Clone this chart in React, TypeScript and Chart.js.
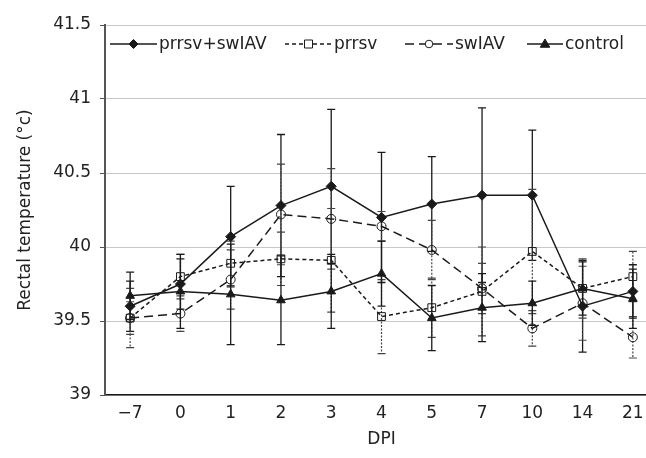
import React, { useEffect, useRef } from 'react';
import { Chart, registerables } from 'chart.js';

Chart.register(...registerables);

const categories = ['−7', '0', '1', '2', '3', '4', '5', '7', '10', '14', '21'];

const comboValues = [39.6, 39.75, 40.07, 40.28, 40.41, 40.2, 40.29, 40.35, 40.35, 39.6, 39.7];
const comboErrors = [0.17, 0.17, 0.34, 0.48, 0.52, 0.44, 0.32, 0.59, 0.44, 0.31, 0.18];

const prrsvValues = [39.52, 39.8, 39.89, 39.92, 39.91, 39.53, 39.59, 39.7, 39.97, 39.72, 39.8];
const prrsvErrors = [0.2, 0.15, 0.15, 0.18, 0.35, 0.25, 0.2, 0.3, 0.42, 0.2, 0.17];

const swiavValues = [39.52, 39.55, 39.78, 40.22, 40.19, 40.14, 39.98, 39.72, 39.45, 39.62, 39.39];
const swiavErrors = [0.11, 0.12, 0.2, 0.34, 0.34, 0.1, 0.2, 0.17, 0.12, 0.25, 0.14];

const controlValues = [39.67, 39.7, 39.68, 39.64, 39.7, 39.82, 39.52, 39.59, 39.62, 39.72, 39.65];
const controlErrors = [0.16, 0.25, 0.34, 0.3, 0.25, 0.22, 0.22, 0.23, 0.15, 0.18, 0.2];

const seriesLabels = ['prrsv+swIAV', 'prrsv', 'swIAV', 'control'];

const yMin = 39;
const yMax = 41.5;
const yStep = 0.5;

const FONT = 'DejaVu Sans';
const INK = '#1a1a1a';

function drawMarker(ctx: CanvasRenderingContext2D, style: string, x: number, y: number, r: number, filled: boolean) {
  ctx.beginPath();
  if (style === 'rectRot') {
    ctx.moveTo(x, y - r);
    ctx.lineTo(x + r, y);
    ctx.lineTo(x, y + r);
    ctx.lineTo(x - r, y);
    ctx.closePath();
  } else if (style === 'rect') {
    ctx.rect(x - r, y - r, 2 * r, 2 * r);
  } else if (style === 'circle') {
    ctx.arc(x, y, r, 0, Math.PI * 2);
  } else if (style === 'triangle') {
    ctx.moveTo(x, y - r);
    ctx.lineTo(x + r * 0.95, y + r * 0.65);
    ctx.lineTo(x - r * 0.95, y + r * 0.65);
    ctx.closePath();
  }
  ctx.fillStyle = filled ? INK : '#fff';
  ctx.fill();
  ctx.strokeStyle = INK;
  ctx.lineWidth = 1;
  ctx.setLineDash([]);
  ctx.stroke();
}

const errorBarPlugin = {
  id: 'errorBars',
  beforeDatasetsDraw(chart: any) {
    const ctx = chart.ctx as CanvasRenderingContext2D;
    const yScale = chart.scales.y;
    chart.data.datasets.forEach((ds: any, i: number) => {
      const meta = chart.getDatasetMeta(i);
      const errs: number[] = ds.errors;
      if (!errs) return;
      ctx.save();
      ctx.strokeStyle = ds.errorColor;
      ctx.lineWidth = ds.errorWidth;
      meta.data.forEach((pt: any, j: number) => {
        const v = ds.data[j] as number;
        const e = errs[j];
        const x = pt.x;
        const yTop = yScale.getPixelForValue(v + e);
        const yBot = yScale.getPixelForValue(v - e);
        ctx.setLineDash(ds.errorDash || []);
        ctx.beginPath();
        ctx.moveTo(x, yTop);
        ctx.lineTo(x, yBot);
        ctx.stroke();
        ctx.setLineDash([]);
        ctx.beginPath();
        ctx.moveTo(x - 4, yTop);
        ctx.lineTo(x + 4, yTop);
        ctx.moveTo(x - 4, yBot);
        ctx.lineTo(x + 4, yBot);
        ctx.stroke();
      });
      ctx.restore();
    });
  },
};

const legendItems = [
  { offset: 5, length: 47, marker: 'rectRot', r: 4.5, filled: true, dash: [] as number[] },
  { offset: 180, length: 47, marker: 'rect', r: 4, filled: false, dash: [4, 3] },
  { offset: 300, length: 48, marker: 'circle', r: 3.8, filled: false, dash: [9, 5] },
  { offset: 422, length: 36, marker: 'triangle', r: 5, filled: true, dash: [] as number[] },
];

const legendPlugin = {
  id: 'customLegend',
  afterDraw(chart: any) {
    const ctx = chart.ctx as CanvasRenderingContext2D;
    const left = chart.chartArea.left;
    const y = chart.chartArea.top + 19;
    ctx.save();
    legendItems.forEach((it, i) => {
      const x0 = left + it.offset;
      ctx.strokeStyle = INK;
      ctx.lineWidth = 1.5;
      ctx.setLineDash(it.dash);
      ctx.beginPath();
      ctx.moveTo(x0, y);
      ctx.lineTo(x0 + it.length, y);
      ctx.stroke();
      drawMarker(ctx, it.marker, x0 + it.length / 2, y, it.r, it.filled);
      ctx.fillStyle = '#222';
      ctx.font = `17px "${FONT}"`;
      ctx.textBaseline = 'middle';
      ctx.textAlign = 'left';
      ctx.fillText(seriesLabels[i], x0 + it.length + 2, y + 1);
    });
    ctx.restore();
  },
};

export default function App() {
  const ref = useRef<HTMLCanvasElement>(null);

  useEffect(() => {
    if (!ref.current) return;
    Chart.defaults.font.family = FONT;
    Chart.defaults.font.size = 17;
    Chart.defaults.color = '#222';

    const common = {
      borderColor: INK,
      borderWidth: 1.5,
      tension: 0,
      pointBorderColor: INK,
      pointBorderWidth: 1,
      fill: false,
    };

    const chart = new Chart(ref.current, {
      type: 'line',
      data: {
        labels: categories,
        datasets: [
          {
            ...common,
            label: seriesLabels[0],
            data: comboValues,
            pointStyle: 'rectRot',
            pointRadius: 5,
            pointBackgroundColor: INK,
            errors: comboErrors,
            errorColor: INK,
            errorWidth: 1.3,
            errorDash: [],
          } as any,
          {
            ...common,
            label: seriesLabels[1],
            data: prrsvValues,
            borderDash: [4, 3],
            pointStyle: 'rect',
            pointRadius: 5.5,
            pointBackgroundColor: 'rgba(0,0,0,0)',
            errors: prrsvErrors,
            errorColor: '#444',
            errorWidth: 1.2,
            errorDash: [2, 1.5],
          } as any,
          {
            ...common,
            label: seriesLabels[2],
            data: swiavValues,
            borderDash: [9, 5],
            pointStyle: 'circle',
            pointRadius: 4.5,
            pointBackgroundColor: 'rgba(0,0,0,0)',
            errors: swiavErrors,
            errorColor: '#444',
            errorWidth: 1.2,
            errorDash: [2, 1.5],
          } as any,
          {
            ...common,
            label: seriesLabels[3],
            data: controlValues,
            pointStyle: 'triangle',
            pointRadius: 5,
            pointBackgroundColor: INK,
            errors: controlErrors,
            errorColor: INK,
            errorWidth: 1.3,
            errorDash: [],
          } as any,
        ],
      },
      options: {
        animation: false,
        responsive: true,
        maintainAspectRatio: false,
        layout: { padding: { left: 11, right: 12, top: 25, bottom: 4 } },
        plugins: {
          legend: { display: false },
          tooltip: { enabled: false },
        },
        scales: {
          x: {
            type: 'category',
            offset: true,
            afterFit: (scale: any) => {
              scale.height = 59;
            },
            grid: { display: false, drawTicks: false },
            border: { display: true, color: INK, width: 1.5 },
            ticks: { padding: 8, color: '#222', font: { size: 17 } },
            title: { display: true, text: 'DPI', color: '#222', font: { size: 17 }, padding: { top: 4, bottom: 4 } },
          },
          y: {
            min: yMin,
            max: yMax,
            afterFit: (scale: any) => {
              scale.width = 94;
            },
            ticks: {
              stepSize: yStep,
              padding: 9,
              color: '#222',
              font: { size: 17 },
              callback: (v: any) => String(Number(v)),
            },
            grid: { color: '#c8c8c8', lineWidth: 1, tickLength: 5, tickColor: '#555' },
            border: { display: true, color: '#555', width: 2 },
            title: {
              display: true,
              text: 'Rectal temperature (°c)',
              color: '#222',
              font: { size: 17 },
              padding: { top: 4, bottom: 4 },
            },
          },
        },
      },
      plugins: [errorBarPlugin, legendPlugin],
    } as any);

    return () => chart.destroy();
  }, []);

  return (
    <div style={{ position: 'absolute', left: 0, top: 0, width: 646, height: 458, overflow: 'hidden', background: '#fff' }}>
      <div style={{ position: 'relative', width: 670, height: 458 }}>
        <canvas ref={ref} />
      </div>
    </div>
  );
}
